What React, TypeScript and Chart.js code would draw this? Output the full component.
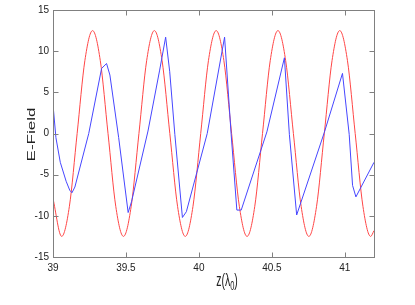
import React, { useEffect, useRef } from "react";
import { Chart, registerables } from "chart.js";

Chart.register(...registerables);

// Red field (sinusoid) samples
const redZ = [
  39.0, 39.0595, 39.1124, 39.1654, 39.2183, 39.2713, 39.3242, 39.3771, 39.4301,
  39.483, 39.5359, 39.5889, 39.6418, 39.6948, 39.7477, 39.8006, 39.8536, 39.9065,
  39.9594, 40.0124, 40.0653, 40.1183, 40.1712, 40.2241, 40.2771, 40.33, 40.3829,
  40.4359, 40.4888, 40.5418, 40.5947, 40.6476, 40.7006, 40.7535, 40.8064, 40.8594,
  40.9123, 40.9653, 41.0182, 41.0711, 41.1241, 41.177, 41.2,
];
const redE = [
  -7.9, -12.5, -8.84, 0, 8.84, 12.5, 8.84, 0, -8.84,
  -12.5, -8.84, 0, 8.84, 12.5, 8.84, 0, -8.84, -12.5,
  -8.84, 0, 8.84, 12.5, 8.84, 0, -8.84, -12.5, -8.84,
  0, 8.84, 12.5, 8.84, 0, -8.84, -12.5, -8.84, 0,
  8.84, 12.5, 8.84, 0, -8.84, -12.5, -11.8,
];

// Blue field (sawtooth-like) samples
const blueZ = [
  39.0, 39.02, 39.05, 39.09, 39.115, 39.13, 39.15, 39.245, 39.333, 39.367, 39.39,
  39.45, 39.515, 39.538, 39.651, 39.731, 39.772, 39.8, 39.835, 39.887, 39.914,
  40.057, 40.176, 40.221, 40.26, 40.29, 40.466, 40.586, 40.62, 40.67, 40.859,
  40.984, 41.03, 41.053, 41.076, 41.2,
];
const blueE = [
  3.5, -0.5, -3.5, -5.8, -6.9, -7.2, -6.5, 0.0, 7.9, 8.5, 7.1,
  -0.5, -9.6, -8.3, 0.3, 7.7, 11.7, 7.5, -0.1, -10.2, -9.5,
  0.0, 11.7, -0.1, -9.3, -9.3, 0.2, 9.2, -0.1, -9.9, 0.1,
  7.3, -0.1, -6.3, -7.7, -3.5,
];

const xTicks = [39, 39.5, 40, 40.5, 41];
const yTicks = [-15, -10, -5, 0, 5, 10, 15];
const xLabelTitle = "z(λ";
const xLabelSub = "0";
const xLabelEnd = ")";
const yLabelTitle = "E-Field";

const FONT = "'Liberation Sans', Arial, Helvetica, sans-serif";

const framePlugin = {
  id: "frame",
  afterDraw(chart: any) {
    const ctx: CanvasRenderingContext2D = chart.ctx;
    const { left, right, top, bottom } = chart.chartArea;
    const xs = chart.scales.x;
    const ys = chart.scales.y;
    const L = Math.round(left) + 0.5;
    const R = Math.round(right) + 0.5;
    const T = Math.round(top) + 0.5;
    const B = Math.round(bottom) + 0.5;
    ctx.save();
    ctx.strokeStyle = "#808080";
    ctx.lineWidth = 1;
    ctx.strokeRect(L, T, R - L, B - T);
    const tl = 5;
    ctx.beginPath();
    for (const v of xTicks) {
      const px = Math.round(xs.getPixelForValue(v)) + 0.5;
      ctx.moveTo(px, B);
      ctx.lineTo(px, B - tl);
      ctx.moveTo(px, T);
      ctx.lineTo(px, T + tl);
    }
    for (const v of yTicks) {
      const py = Math.round(ys.getPixelForValue(v)) + 0.5;
      ctx.moveTo(L, py);
      ctx.lineTo(L + tl, py);
      ctx.moveTo(R, py);
      ctx.lineTo(R - tl, py);
    }
    ctx.stroke();

    // Axis titles (stretched vertically as in the reference)
    ctx.fillStyle = "#222";
    ctx.textBaseline = "alphabetic";
    // y title
    ctx.save();
    ctx.translate(35, 134.5);
    ctx.rotate(-Math.PI / 2);
    ctx.scale(1.7, 1);
    ctx.font = `10px ${FONT}`;
    ctx.textAlign = "center";
    ctx.fillText(yLabelTitle, 0, 0);
    ctx.restore();

    // x title
    ctx.save();
    ctx.font = `10.5px ${FONT}`;
    const w1 = ctx.measureText(xLabelTitle).width;
    const w3 = ctx.measureText(xLabelEnd).width;
    ctx.font = `7.5px ${FONT}`;
    const w2 = ctx.measureText(xLabelSub).width;
    const total = w1 + w2 + w3;
    ctx.translate(227 - total / 2, 286);
    ctx.scale(1, 1.7);
    ctx.textAlign = "left";
    ctx.font = `10.5px ${FONT}`;
    ctx.fillText(xLabelTitle, 0, 0);
    ctx.font = `7.5px ${FONT}`;
    ctx.fillText(xLabelSub, w1, 2.5);
    ctx.font = `10.5px ${FONT}`;
    ctx.fillText(xLabelEnd, w1 + w2, 0);
    ctx.restore();

    ctx.restore();
  },
};

export default function App() {
  const ref = useRef<HTMLCanvasElement | null>(null);
  useEffect(() => {
    if (!ref.current) return;
    const chart = new Chart(ref.current, {
      type: "line",
      data: {
        datasets: [
          {
            label: "blue",
            data: blueZ.map((z, i) => ({ x: z, y: blueE[i] })),
            borderColor: "rgb(70,70,255)",
            borderWidth: 1,
            pointRadius: 0,
            tension: 0,
            fill: false,
          },
          {
            label: "red",
            data: redZ.map((z, i) => ({ x: z, y: redE[i] })),
            borderColor: "rgb(255,70,70)",
            borderWidth: 1,
            pointRadius: 0,
            cubicInterpolationMode: "monotone",
            fill: false,
          },
        ],
      },
      options: {
        animation: false,
        responsive: false,
        devicePixelRatio: 1,
        layout: { padding: { top: 8, right: 41, left: 0, bottom: 0 } },
        plugins: {
          legend: { display: false },
          tooltip: { enabled: false },
          title: { display: false },
        },
        scales: {
          x: {
            type: "linear",
            min: 39,
            max: 41.2,
            grid: { display: false, drawTicks: false },
            border: { display: false },
            afterBuildTicks: (s: any) => {
              s.ticks = xTicks.map((v) => ({ value: v }));
            },
            afterFit: (s: any) => {
              s.height = 48;
            },
            ticks: {
              padding: 5,
              maxRotation: 0,
              autoSkip: false,
              color: "#222",
              font: { family: FONT, size: 10 },
              callback: (v: any) => String(v),
            },
          },
          y: {
            type: "linear",
            min: -15,
            max: 15,
            grid: { display: false, drawTicks: false },
            border: { display: false },
            afterBuildTicks: (s: any) => {
              s.ticks = yTicks.map((v) => ({ value: v }));
            },
            afterFit: (s: any) => {
              s.width = 53;
            },
            ticks: {
              padding: 4,
              autoSkip: false,
              color: "#222",
              font: { family: FONT, size: 10 },
              callback: (v: any) => String(v),
            },
          },
        },
      },
      plugins: [framePlugin],
    });
    return () => chart.destroy();
  }, []);
  return (
    <div style={{ position: "absolute", left: 0, top: 0, width: 415, height: 305, background: "#fff" }}>
      <canvas ref={ref} width={415} height={305} style={{ display: "block" }} />
    </div>
  );
}
